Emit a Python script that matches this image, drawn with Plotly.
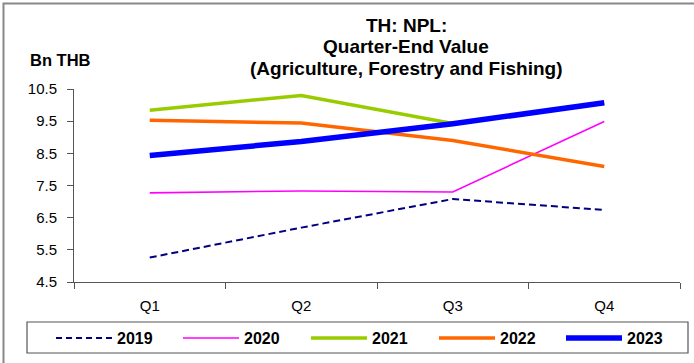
import plotly.graph_objects as go

quarters = ["Q1", "Q2", "Q3", "Q4"]
years = ["2019", "2020", "2021", "2022", "2023"]
v2019 = [5.26, 6.19, 7.08, 6.74]
v2020 = [7.27, 7.33, 7.30, 9.49]
v2021 = [9.84, 10.30, 9.43, 10.06]
v2022 = [9.53, 9.44, 8.90, 8.09]
v2023 = [8.43, 8.87, 9.42, 10.07]
series = [v2019, v2020, v2021, v2022, v2023]
y_ticks = [4.5, 5.5, 6.5, 7.5, 8.5, 9.5, 10.5]
title_lines = ["TH: NPL:", "Quarter-End Value", "(Agriculture, Forestry and Fishing)"]
unit_label = "Bn THB"

styles = [
    dict(color="#000080", width=2, dash="7px,4px"),
    dict(color="#FF00FF", width=1.6, dash="solid"),
    dict(color="#99CC00", width=3.5, dash="solid"),
    dict(color="#FF6600", width=3.5, dash="solid"),
    dict(color="#0000FF", width=5.5, dash="solid"),
]

FONT = "Liberation Sans, Arial, sans-serif"
W, H = 694, 363
L, R, T, B = 74, 14, 89, 81
PW, PH = W - L - R, H - T - B


def px(x):
    return (x - L) / PW


def py(y):
    return (H - B - y) / PH


fig = go.Figure()
for name, vals, st in zip(years, series, styles):
    fig.add_trace(go.Scatter(x=quarters, y=vals, mode="lines", name=name,
                             line=st, showlegend=False, hoverinfo="skip"))

shapes = []
annotations = []
# custom legend
legend_x = [56, 183, 311, 439, 566]
for i, (name, st) in enumerate(zip(years, styles)):
    x0 = legend_x[i]
    lst = dict(st)
    if i == 0:
        lst["dash"] = "6px,4px"
    shapes.append(dict(type="line", xref="paper", yref="paper",
                       x0=px(x0), x1=px(x0 + 56), y0=py(338), y1=py(338),
                       line=lst))
    annotations.append(dict(text="<b>" + name + "</b>", xref="paper", yref="paper",
                            x=px(x0 + 59), y=py(338), xanchor="left", yanchor="middle",
                            showarrow=False, font=dict(family=FONT, size=16, color="black")))
# legend box
shapes.append(dict(type="rect", xref="paper", yref="paper",
                   x0=px(27), x1=px(688), y0=py(322), y1=py(353),
                   line=dict(color="#555555", width=1.2)))
# outer frame (top/left)
shapes.append(dict(type="rect", xref="paper", yref="paper",
                   x0=px(3.5), x1=px(720), y0=py(3.5), y1=py(400),
                   line=dict(color="#888888", width=2)))

for txt, yc in zip(title_lines, [26, 47, 68]):
    annotations.append(dict(text="<b>" + txt + "</b>",
                            xref="paper", yref="paper", x=px(406), y=py(yc),
                            xanchor="center", yanchor="middle", showarrow=False,
                            font=dict(family=FONT, size=19, color="black")))
annotations.append(dict(text="<b>" + unit_label + "</b>", xref="paper", yref="paper",
                        x=px(28), y=py(60), xanchor="left", yanchor="middle",
                        showarrow=False, font=dict(family=FONT, size=16.5, color="black")))

fig.update_layout(
    width=W, height=H,
    margin=dict(l=L, r=R, t=T, b=B),
    paper_bgcolor="white", plot_bgcolor="white",
    font=dict(family=FONT, size=13, color="black"),
    shapes=shapes, annotations=annotations,
    showlegend=False,
)
fig.update_xaxes(type="category", range=[-0.5, 3.5], showgrid=False,
                 showline=True, linecolor="#555555", linewidth=1,
                 ticks="outside", tickson="boundaries", ticklen=6, tickcolor="#555555",
                 ticklabelstandoff=10,
                 tickfont=dict(family=FONT, size=15, color="black"))
fig.update_yaxes(range=[4.5, 10.5], tickvals=y_ticks, ticktext=[f"{v:.1f}" for v in y_ticks],
                 showgrid=False, zeroline=False,
                 showline=True, linecolor="#555555", linewidth=1,
                 ticks="outside", ticklen=6, tickcolor="#555555",
                 ticklabelstandoff=7,
                 tickfont=dict(family=FONT, size=15, color="black"))

fig.write_html("out.html", config={"displayModeBar": False},
               post_script="document.body.style.margin='0';document.body.style.overflow='hidden';")
